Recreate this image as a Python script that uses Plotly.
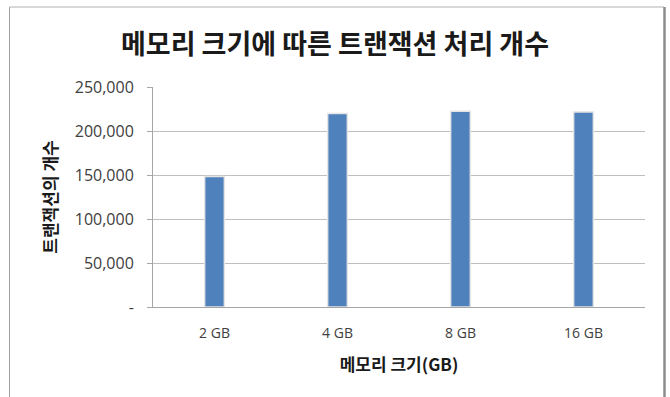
import plotly.graph_objects as go

categories = ["2 GB", "4 GB", "8 GB", "16 GB"]
transactions = [148400, 219800, 222500, 221700]
tick_values = [0, 50000, 100000, 150000, 200000, 250000]
tick_labels = ["-", "50,000", "100,000", "150,000", "200,000", "250,000"]

W, H = 670, 397
L, R, T, B = 153, 25, 87, 90
pw, ph = W - L - R, H - T - B

def px(x):
    return (x - L) / pw

def py(y):
    return (H - B - y) / ph

kfont = "Noto Sans CJK KR"
nfont = "Open Sans"

fig = go.Figure(go.Bar(
    x=categories, y=transactions,
    width=0.16,
    marker=dict(color="#4F81BD", line=dict(color="#E4E4E4", width=1.5)),
))

fig.update_layout(
    width=W, height=H,
    margin=dict(l=L, r=R, t=T, b=B),
    paper_bgcolor="white", plot_bgcolor="white",
    showlegend=False,
    title=dict(text="<b>메모리 크기에 따른 트랜잭션 처리 개수</b>",
               font=dict(family=kfont, size=27, color="#1a1a1a"),
               x=0.5, xanchor="center", y=1 - 45 / H, yanchor="middle"),
    xaxis=dict(
        title=dict(text="<b>메모리 크기(GB)</b>", font=dict(family=kfont, size=17, color="#1a1a1a"), standoff=18),
        tickfont=dict(family=nfont, size=14, color="#404040"),
        showline=True, linecolor="#A6A6A6", linewidth=1,
        showgrid=False, ticks="", ticklen=0, ticklabelstandoff=13,
    ),
    yaxis=dict(
        title=dict(text="<b>트랜잭션의 개수</b>", font=dict(family=kfont, size=17, color="#1a1a1a"), standoff=12),
        range=[0, 250000],
        tickvals=tick_values, ticktext=tick_labels,
        tickfont=dict(family=nfont, size=16, color="#404040"),
        showline=True, linecolor="#A6A6A6", linewidth=1,
        showgrid=True, gridcolor="#BFBFBF", gridwidth=1,
        ticks="outside", ticklen=5, tickcolor="#A6A6A6", ticklabelstandoff=10,
        zeroline=False,
    ),
    shapes=[
        dict(type="line", xref="paper", yref="paper", x0=px(9.5), x1=px(9.5), y0=py(7), y1=py(400),
             line=dict(color="#A0A0A0", width=1)),
        dict(type="line", xref="paper", yref="paper", x0=px(9.5), x1=px(664), y0=py(7), y1=py(7),
             line=dict(color="#B0B0B0", width=1)),
        dict(type="line", xref="paper", yref="paper", x0=px(664.5), x1=px(664.5), y0=py(7), y1=py(400),
             line=dict(color="#8C8C8C", width=2.5)),
    ],
)

fig.write_html("out.html")
